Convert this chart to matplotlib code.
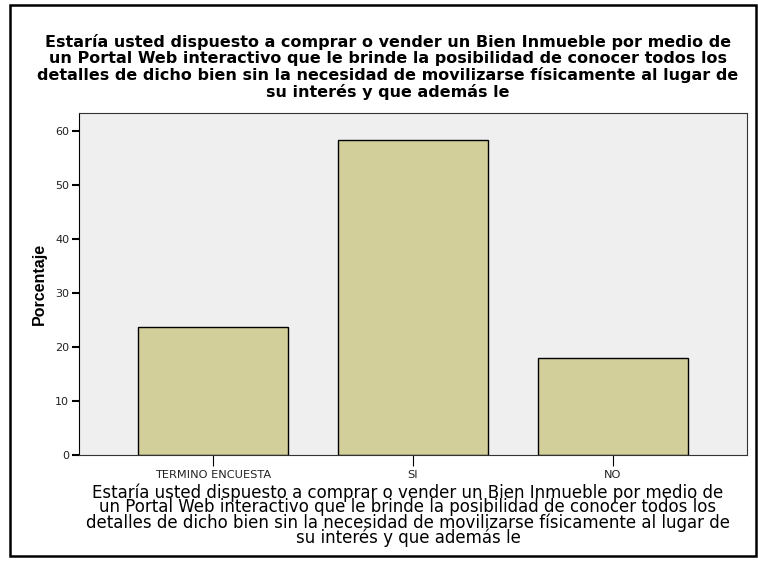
import numpy as np
import matplotlib.pyplot as plt
from matplotlib.patches import Rectangle

# categories and percentages
categorias = ['TERMINO ENCUESTA', 'SI', 'NO']
porcentaje = [23.7, 58.3, 18.0]
ticks_y = [0, 10, 20, 30, 40, 50, 60]

pregunta = ('Estaría usted dispuesto a comprar o vender un Bien Inmueble por medio de\n'
            'un Portal Web interactivo que le brinde la posibilidad de conocer todos los\n'
            'detalles de dicho bien sin la necesidad de movilizarse físicamente al lugar de\n'
            'su interés y que además le')

plt.rcParams['font.family'] = ['Liberation Sans', 'DejaVu Sans']

W, H = 758, 561
fig = plt.figure(figsize=(W / 100, H / 100), dpi=100)

# plot area in pixels: left 79, right 747, top 113, bottom 455
ax = fig.add_axes([79 / W, 1 - 455 / H, (747 - 79) / W, (455 - 113) / H])
ax.set_facecolor('#efefef')

x = np.arange(len(categorias))
ax.bar(x, porcentaje, width=0.75, color='#d3cf9a', edgecolor='black', linewidth=1)

ax.set_xlim(-0.67, 2.67)
ax.set_ylim(0, 63.3)
ax.set_yticks(ticks_y)
ax.set_xticks(x)
ax.set_xticklabels(categorias, fontsize=8.2, family='DejaVu Sans', color='#222222')
for lab in ax.get_yticklabels():
    lab.set_family('DejaVu Sans')
ax.tick_params(axis='y', labelsize=8, labelcolor='#222222', length=5, width=1.5, pad=2)
ax.tick_params(axis='x', length=8, width=0.8, pad=3)
for s in ax.spines.values():
    s.set_linewidth(0.8)
    s.set_color('#333333')
ax.spines['left'].set_color('black')

ax.set_ylabel('Porcentaje', fontsize=11.5, fontweight='bold', labelpad=6)

# title and x label as figure text
fig.text(388 / W, 1 - 67 / H, pregunta, ha='center', va='center',
         fontsize=11.5, fontweight='bold', family='DejaVu Sans', linespacing=1.06)
fig.text(408 / W, 1 - 515 / H, pregunta, ha='center', va='center',
         fontsize=12.0, family='DejaVu Sans', linespacing=0.77)

# outer frame
fig.patches.append(Rectangle((10 / W, 1 - 556 / H), 746 / W, 551 / H,
                             transform=fig.transFigure, fill=False,
                             edgecolor='black', linewidth=1.8))

fig.savefig('out.png', dpi=100)
